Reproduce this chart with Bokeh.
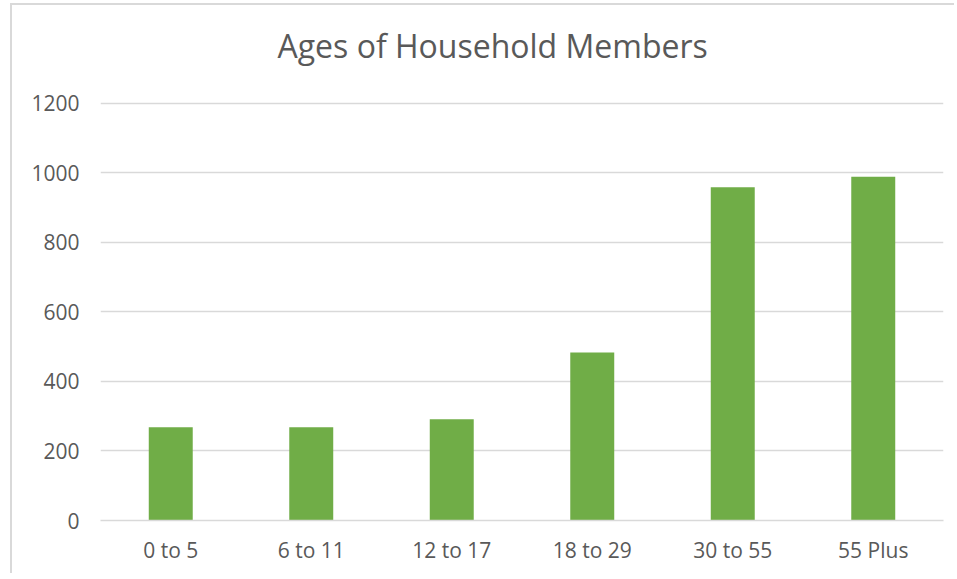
from bokeh.plotting import figure
from bokeh.models import ColumnDataSource, Range1d, FixedTicker, Title
from bokeh.embed import file_html
from bokeh.resources import INLINE

# ---- data ----
categories = ["0 to 5", "6 to 11", "12 to 17", "18 to 29", "30 to 55", "55 Plus"]
members = [268, 268, 291, 483, 959, 989]
y_ticks = [0, 200, 400, 600, 800, 1000, 1200]
title_text = "Ages of Household Members"

FONT = "Open Sans"
TEXT_COLOR = "#595959"
GRID_COLOR = "#D9D9D9"
BAR_COLOR = "#70AD47"

source = ColumnDataSource(data=dict(cat=categories, val=members))

p = figure(
    x_range=categories,
    y_range=Range1d(0, 1214),
    width=944,
    height=570,
    output_backend="svg",
    toolbar_location=None,
    title=title_text,
    min_border_left=88,
    min_border_right=13,
    min_border_top=93,
    min_border_bottom=55,
)
p.x_range.range_padding = 0

p.vbar(x="cat", top="val", width=0.313, source=source,
       fill_color=BAR_COLOR, line_color=None)

# title
p.title.text_font = FONT
p.title.text_font_size = "32px"
p.title.text_font_style = "normal"
p.title.text_color = TEXT_COLOR
p.title.align = "left"
p.title.offset = 177
p.title.standoff = 7

# blank spacer between title and plot area
spacer = Title(text=" ", text_font=FONT, text_font_size="19px", standoff=0)
p.add_layout(spacer, "above")

# axes
p.yaxis.ticker = FixedTicker(ticks=y_ticks)
for ax in (p.xaxis[0], p.yaxis[0]):
    ax.major_label_text_font = FONT
    ax.major_label_text_font_size = "21px"
    ax.major_label_text_color = TEXT_COLOR
    ax.major_tick_line_color = None
    ax.minor_tick_line_color = None
p.yaxis.axis_line_color = None
p.yaxis.major_label_standoff = 15
p.xaxis.axis_line_color = GRID_COLOR
p.xaxis.axis_line_width = 1.5
p.xaxis.major_label_standoff = 9

# grid
p.xgrid.grid_line_color = None
p.ygrid.grid_line_color = GRID_COLOR
p.ygrid.grid_line_width = 1.5

p.outline_line_color = None
p.background_fill_color = "white"
p.border_fill_color = "white"

# chart-area border (only top and left edges are inside the crop)
p.styles = {
    "margin-left": "10px",
    "margin-top": "3px",
    "border-left": "2px solid #D9D9D9",
    "border-top": "2px solid #D9D9D9",
}

open("out.html", "w").write(file_html(p, INLINE))
